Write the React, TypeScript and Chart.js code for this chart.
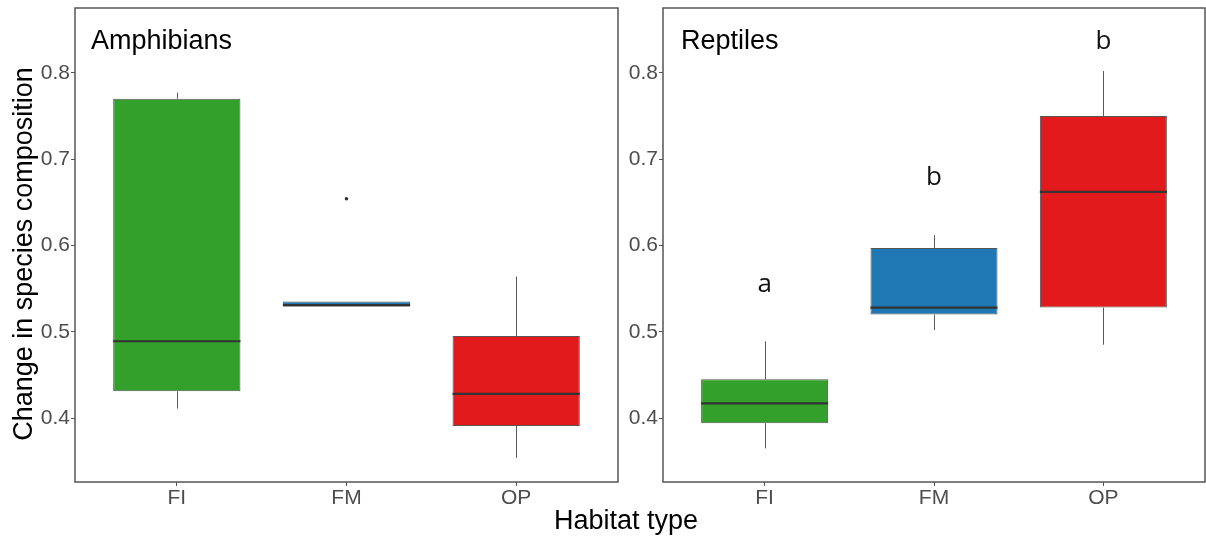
import React, { useEffect, useRef } from 'react';
import { Chart, registerables } from 'chart.js';

Chart.register(...registerables);

// ---------- data ----------
const categories = ['FI', 'FM', 'OP'];
const boxColors = ['#33a02c', '#1f78b4', '#e31a1c'];
const yTicks = [0.4, 0.5, 0.6, 0.7, 0.8];
const yMin = 0.326;
const yMax = 0.875;

const amphWhiskerLow = [0.411, 0.529, 0.354];
const amphQ1 = [0.431, 0.529, 0.391];
const amphMedian = [0.489, 0.531, 0.428];
const amphQ3 = [0.77, 0.535, 0.495];
const amphWhiskerHigh = [0.777, 0.535, 0.564];
const amphOutlierCat = [2];
const amphOutlierValue = [0.654];

const reptWhiskerLow = [0.365, 0.502, 0.485];
const reptQ1 = [0.394, 0.52, 0.528];
const reptMedian = [0.417, 0.528, 0.662];
const reptQ3 = [0.445, 0.597, 0.75];
const reptWhiskerHigh = [0.489, 0.612, 0.802];
const reptLetters = ['a', 'b', 'b'];
const reptLetterValue = [0.546, 0.67, 0.827];

const FONT = "'Liberation Sans', Arial, sans-serif";

type Panel = {
  title: string;
  titleOffset: number;
  low: number[];
  q1: number[];
  med: number[];
  q3: number[];
  high: number[];
  outCat: number[];
  outVal: number[];
  letters: string[];
  letterVal: number[];
  yTitle: string;
  axisWidth: number;
};

function makeChart(canvas: HTMLCanvasElement, p: Panel) {
  const extras = {
    id: 'boxExtras',
    afterDatasetsDraw(chart: any) {
      const ctx = chart.ctx;
      const xs = chart.scales.x;
      const ys = chart.scales.y;
      const meta = chart.getDatasetMeta(0);
      ctx.save();
      categories.forEach((_, i) => {
        const x = xs.getPixelForValue(i + 1);
        const w = meta.data[i].width;
        const xx = Math.round(x) + 0.5;
        ctx.strokeStyle = '#595959';
        ctx.lineWidth = 1;
        ctx.beginPath();
        ctx.moveTo(xx, ys.getPixelForValue(p.high[i]));
        ctx.lineTo(xx, ys.getPixelForValue(p.q3[i]));
        ctx.moveTo(xx, ys.getPixelForValue(p.q1[i]));
        ctx.lineTo(xx, ys.getPixelForValue(p.low[i]));
        ctx.stroke();
        ctx.strokeStyle = '#333333';
        ctx.lineWidth = 2.2;
        const my = ys.getPixelForValue(p.med[i]);
        ctx.beginPath();
        ctx.moveTo(x - w / 2, my);
        ctx.lineTo(x + w / 2, my);
        ctx.stroke();
      });
      ctx.fillStyle = '#111';
      ctx.font = "26px 'Open Sans', sans-serif";
      ctx.textAlign = 'center';
      ctx.textBaseline = 'alphabetic';
      p.letters.forEach((l, i) => {
        ctx.fillText(l, xs.getPixelForValue(i + 1), ys.getPixelForValue(p.letterVal[i]));
      });
      ctx.restore();
    },
    afterDraw(chart: any) {
      const ctx = chart.ctx;
      const a = chart.chartArea;
      ctx.save();
      ctx.strokeStyle = '#555555';
      ctx.lineWidth = 1.5;
      ctx.strokeRect(a.left, a.top, a.right - a.left, a.bottom - a.top);
      ctx.fillStyle = '#000';
      ctx.font = `27px ${FONT}`;
      ctx.textAlign = 'left';
      ctx.textBaseline = 'alphabetic';
      ctx.fillText(p.title, a.left + p.titleOffset, a.top + 41);
      if (p.yTitle) {
        ctx.translate(32, (a.top + a.bottom) / 2 + 9);
        ctx.rotate(-Math.PI / 2);
        ctx.textAlign = 'center';
        ctx.fillText(p.yTitle, 0, 0);
      }
      ctx.restore();
    },
  };

  return new Chart(canvas, {
    type: 'bar',
    data: {
      datasets: [
        {
          type: 'bar',
          data: categories.map((_, i) => ({ x: i + 1, y: [p.q1[i], p.q3[i]] })) as any,
          backgroundColor: boxColors,
          borderColor: '#555555',
          borderWidth: 1,
          borderSkipped: false,
          barPercentage: 0.75,
          categoryPercentage: 1,
          grouped: false,
        } as any,
        {
          type: 'line',
          data: p.outCat.map((c, i) => ({ x: c, y: p.outVal[i] })),
          showLine: false,
          pointRadius: 1.8,
          pointBackgroundColor: '#333',
          pointBorderWidth: 0,
        } as any,
      ],
    },
    options: {
      animation: false,
      responsive: false,
      maintainAspectRatio: false,
      layout: { padding: { top: 8, right: 1, left: 0, bottom: 0 } },
      plugins: { legend: { display: false }, tooltip: { enabled: false } },
      scales: {
        x: {
          type: 'linear',
          min: 0.4,
          max: 3.6,
          offset: false,
          afterBuildTicks: (s: any) => {
            s.ticks = categories.map((_, i) => ({ value: i + 1 }));
          },
          afterFit: (s: any) => {
            s.height = 55;
            s.paddingLeft = 0;
            s.paddingRight = 0;
          },
          ticks: {
            color: '#4d4d4d',
            font: { family: FONT, size: 21 },
            padding: 0,
            maxRotation: 0,
            autoSkip: false,
            callback: (v: any) => categories[Math.round(v) - 1] ?? '',
          },
          grid: { offset: false, drawOnChartArea: false, drawTicks: true, tickLength: 4, tickColor: '#555' },
          border: { display: false },
        },
        y: {
          type: 'linear',
          min: yMin,
          max: yMax,
          afterBuildTicks: (s: any) => {
            s.ticks = yTicks.map((v) => ({ value: v }));
          },
          afterFit: (s: any) => {
            s.width = p.axisWidth;
            s.paddingTop = 0;
            s.paddingBottom = 0;
          },
          ticks: {
            color: '#4d4d4d',
            font: { family: FONT, size: 21 },
            padding: 1,
            callback: (v: any) => Number(v).toFixed(1),
          },
          grid: { drawOnChartArea: false, drawTicks: true, tickLength: 4, tickColor: '#555' },
          border: { display: false },
        },
      },
    },
    plugins: [extras],
  } as any);
}

function PanelChart({ panel, left, width }: { panel: Panel; left: number; width: number }) {
  const ref = useRef<HTMLCanvasElement>(null);
  useEffect(() => {
    if (!ref.current) return;
    const c = makeChart(ref.current, panel);
    return () => c.destroy();
  }, []);
  return (
    <canvas
      ref={ref}
      width={width}
      height={537}
      style={{ position: 'absolute', left, top: 0, width, height: 537 }}
    />
  );
}

const amphPanel: Panel = {
  title: 'Amphibians',
  titleOffset: 16,
  low: amphWhiskerLow,
  q1: amphQ1,
  med: amphMedian,
  q3: amphQ3,
  high: amphWhiskerHigh,
  outCat: amphOutlierCat,
  outVal: amphOutlierValue,
  letters: [],
  letterVal: [],
  yTitle: 'Change in species composition',
  axisWidth: 75,
};

const reptPanel: Panel = {
  title: 'Reptiles',
  titleOffset: 18,
  low: reptWhiskerLow,
  q1: reptQ1,
  med: reptMedian,
  q3: reptQ3,
  high: reptWhiskerHigh,
  outCat: [],
  outVal: [],
  letters: reptLetters,
  letterVal: reptLetterValue,
  yTitle: '',
  axisWidth: 41,
};

export default function App() {
  return (
    <div
      style={{
        position: 'fixed',
        left: 0,
        top: 0,
        width: 1206,
        height: 537,
        background: '#fff',
        overflow: 'hidden',
      }}
    >
      <PanelChart panel={amphPanel} left={0} width={622} />
      <PanelChart panel={reptPanel} left={622} width={584} />
      <div
        style={{
          position: 'absolute',
          left: 0,
          width: 1252,
          top: 507,
          textAlign: 'center',
          fontFamily: FONT,
          fontSize: 27,
          lineHeight: '27px',
          color: '#000',
        }}
      >
        Habitat type
      </div>
    </div>
  );
}
